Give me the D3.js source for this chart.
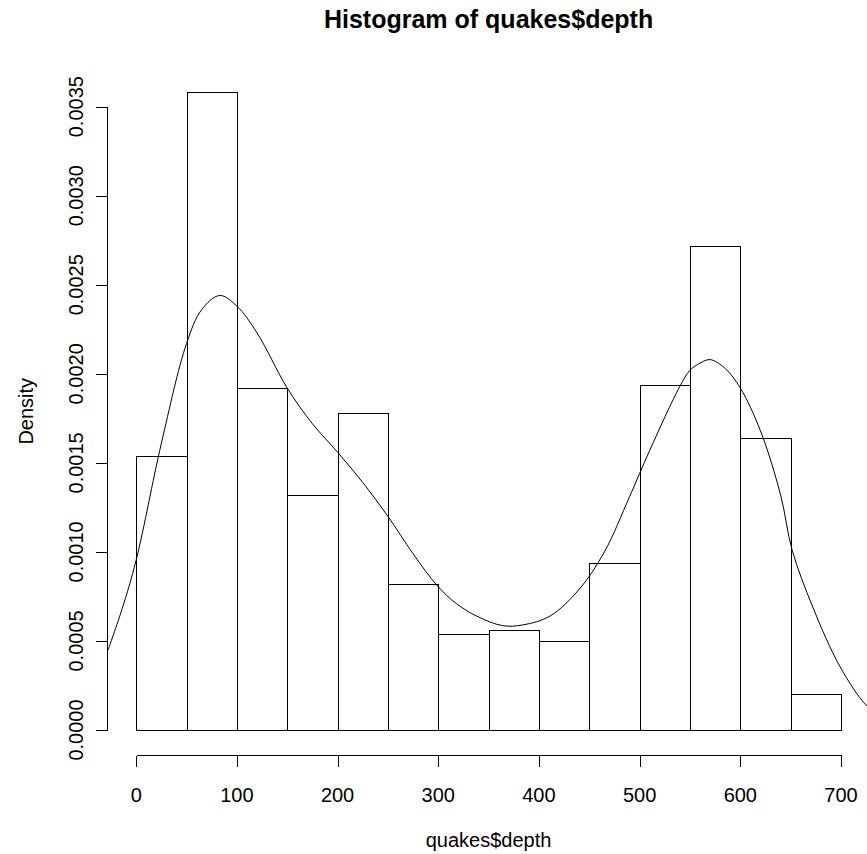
<!doctype html>
<html lang="en">
<head>
<meta charset="utf-8">
<style>
  body { margin: 0; background: #fff; }
  text { font-family: "Liberation Sans", Arial, sans-serif; fill: #000; }
</style>
</head>
<body>
<script src="https://d3js.org/d3.v7.min.js"></script>
<div id="chart"></div>
<script>
  // histogram bins (breaks of 50) and their densities
  var breaks = [0, 50, 100, 150, 200, 250, 300, 350, 400, 450, 500, 550, 600, 650, 700];
  var density = [0.00154, 0.00358, 0.00192, 0.00132, 0.00178, 0.00082, 0.00054,
                 0.00056, 0.00050, 0.00094, 0.00194, 0.00272, 0.00164, 0.00020];
  // kernel density curve
  var curveDepth = [-28, -14, 0, 25, 50, 65, 83, 100, 120, 150, 175, 200, 225, 250, 275, 299,
                    318, 338, 364, 384, 411, 440, 465, 490, 510, 540, 550, 560, 570, 585,
                    600, 620, 640, 651.5, 672, 699, 725, 740];
  var curveDens = [0.000449, 0.00068, 0.000955, 0.00161, 0.00217, 0.00236, 0.00244, 0.00238,
                   0.00223, 0.00192, 0.00172, 0.00156, 0.00139, 0.00120, 0.00099, 0.00081,
                   0.00071, 0.00064, 0.000586, 0.00059, 0.000640, 0.00079, 0.00100, 0.00131,
                   0.00157, 0.00193, 0.00202, 0.00206, 0.00208, 0.00203, 0.00192, 0.00168,
                   0.00132, 0.00101, 0.00069, 0.000356, 0.00014, 0.00008];
  var xTicks = [0, 100, 200, 300, 400, 500, 600, 700];
  var yTicks = [0, 0.0005, 0.0010, 0.0015, 0.0020, 0.0025, 0.0030, 0.0035];

  var width = 867, height = 854;
  var x = d3.scaleLinear().domain([0, 700]).range([136.2, 841]);
  var y = d3.scaleLinear().domain([0, 0.0035]).range([730, 106.7]);
  // plot region (R pads the data range by 4%)
  var px0 = x(-28), px1 = x(728), py0 = y(0.003723), py1 = y(-0.000143);

  var svg = d3.select("#chart").append("svg")
              .attr("width", width).attr("height", height);
  svg.append("rect").attr("width", width).attr("height", height).attr("fill", "#fff");

  svg.append("clipPath").attr("id", "plotclip")
     .append("rect").attr("x", px0).attr("y", py0)
     .attr("width", px1 - px0).attr("height", py1 - py0);

  // bars
  svg.append("g").selectAll("rect")
     .data(density)
     .enter().append("rect")
     .attr("x", function(d, i) { return Math.round(x(breaks[i])) + 0.5; })
     .attr("y", function(d) { return Math.round(y(d)) + 0.5; })
     .attr("width", function(d, i) { return Math.round(x(breaks[i + 1])) - Math.round(x(breaks[i])); })
     .attr("height", function(d) { return Math.round(y(0)) - Math.round(y(d)); })
     .attr("fill", "none").attr("stroke", "#000").attr("stroke-width", 1)
     .attr("shape-rendering", "crispEdges");

  // density line
  var line = d3.line()
               .x(function(d) { return x(d[0]); })
               .y(function(d) { return y(d[1]); })
               .curve(d3.curveCatmullRom);
  svg.append("path")
     .datum(d3.zip(curveDepth, curveDens))
     .attr("clip-path", "url(#plotclip)")
     .attr("d", line)
     .attr("fill", "none").attr("stroke", "#000").attr("stroke-width", 1);

  // x axis
  var xa = svg.append("g").attr("shape-rendering", "crispEdges");
  var xAxisY = Math.round(py1) + 0.5;
  xa.append("line").attr("x1", Math.round(x(0)) + 0.5).attr("x2", Math.round(x(700)) + 0.5)
    .attr("y1", xAxisY).attr("y2", xAxisY).attr("stroke", "#000");
  xa.selectAll(".tk").data(xTicks).enter().append("line")
    .attr("x1", function(d) { return Math.round(x(d)) + 0.5; })
    .attr("x2", function(d) { return Math.round(x(d)) + 0.5; })
    .attr("y1", xAxisY).attr("y2", xAxisY + 11).attr("stroke", "#000");
  svg.append("g").selectAll("text").data(xTicks).enter().append("text")
     .attr("x", function(d) { return x(d); })
     .attr("y", 802)
     .attr("text-anchor", "middle").style("font-size", "20px")
     .text(function(d) { return d; });

  // y axis
  var ya = svg.append("g").attr("shape-rendering", "crispEdges");
  var yAxisX = Math.round(px0) - 1 + 0.5;
  ya.append("line").attr("x1", yAxisX).attr("x2", yAxisX)
    .attr("y1", Math.round(y(0)) + 0.5).attr("y2", Math.round(y(0.0035)) + 0.5).attr("stroke", "#000");
  ya.selectAll(".tk").data(yTicks).enter().append("line")
    .attr("x1", yAxisX - 12).attr("x2", yAxisX)
    .attr("y1", function(d) { return Math.round(y(d)) + 0.5; })
    .attr("y2", function(d) { return Math.round(y(d)) + 0.5; })
    .attr("stroke", "#000");
  svg.append("g").selectAll("text").data(yTicks).enter().append("text")
     .attr("transform", function(d) { return "translate(83," + y(d) + ") rotate(-90)"; })
     .attr("text-anchor", "middle").style("font-size", "20px")
     .text(function(d) { return d.toFixed(4); });

  // titles
  var midX = (px0 + px1) / 2;
  svg.append("text").attr("x", midX).attr("y", 28)
     .attr("text-anchor", "middle").style("font-size", "25px").style("font-weight", "bold")
     .text("Histogram of quakes$depth");
  svg.append("text").attr("x", midX).attr("y", 847)
     .attr("text-anchor", "middle").style("font-size", "20px")
     .text("quakes$depth");
  svg.append("text").attr("transform", "translate(33," + (py0 + py1) / 2 + ") rotate(-90)")
     .attr("text-anchor", "middle").style("font-size", "20px")
     .text("Density");
</script>
</body>
</html>
